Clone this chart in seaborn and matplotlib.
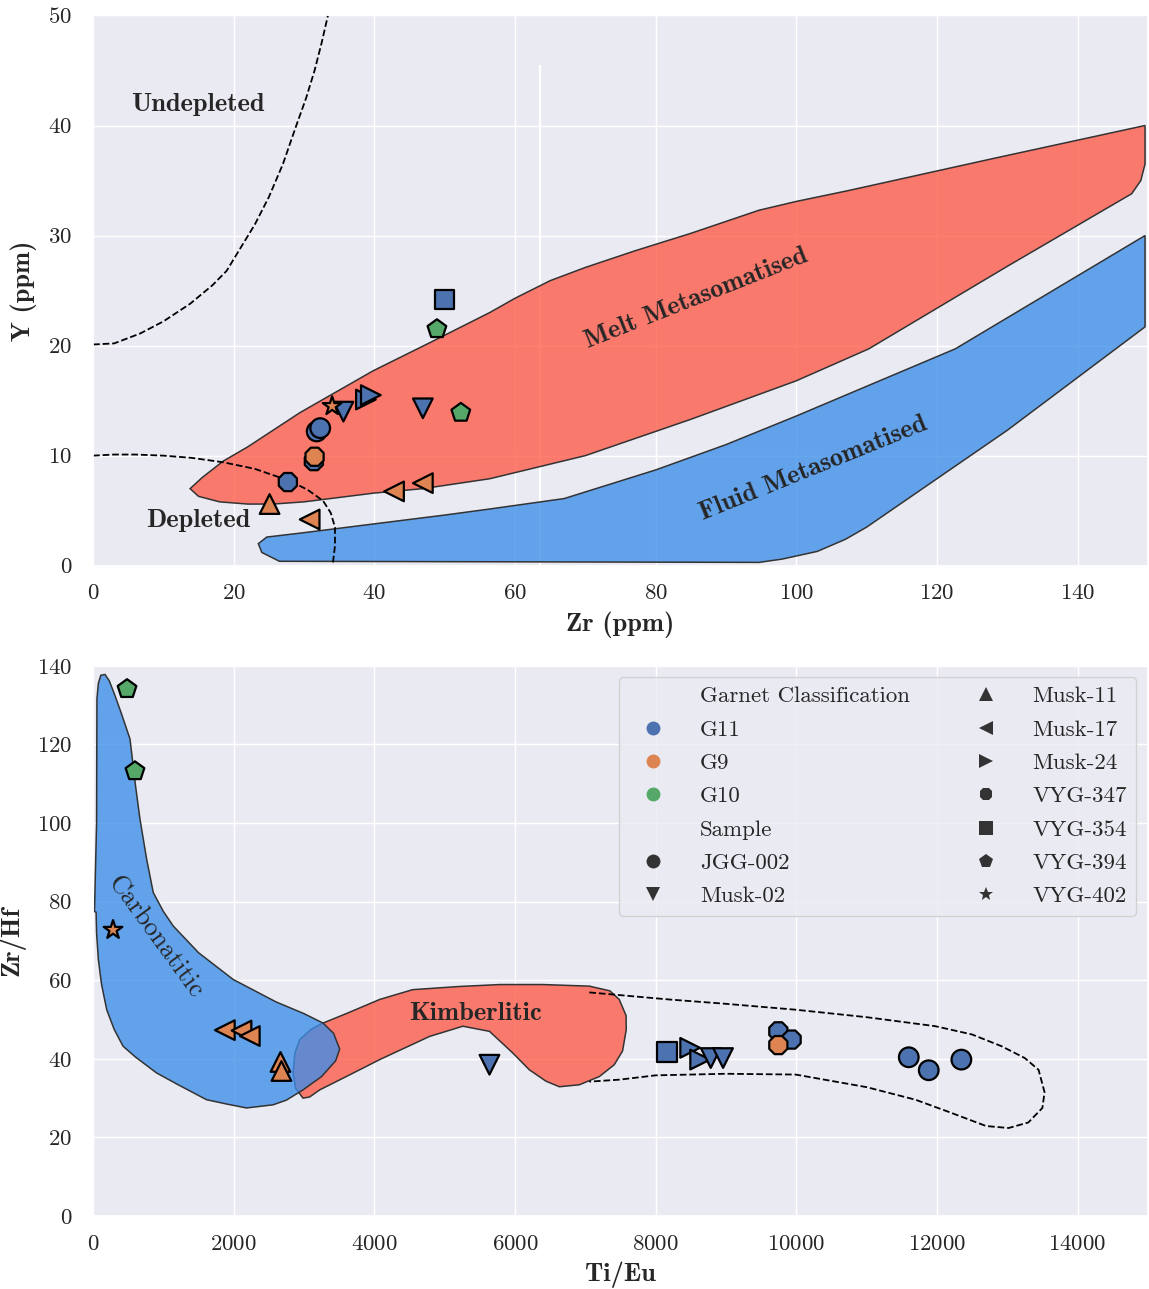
import numpy as np
import pandas as pd
import matplotlib
matplotlib.use("Agg")
import matplotlib.pyplot as plt
import seaborn as sns

# ---------------- data ----------------
classes = ["G11", "G9", "G10"]
samples = ["JGG-002", "Musk-02", "Musk-11", "Musk-17", "Musk-24",
           "VYG-347", "VYG-354", "VYG-394", "VYG-402"]
sample_markers = ["o", "v", "^", "<", ">", "8", "s", "p", "*"]
palette = ["#4c72b0", "#dd8452", "#55a868"]

# top panel: Zr (ppm) vs Y (ppm)
top_zr = [50.0, 48.9, 52.3, 38.8, 39.5, 35.6, 46.9, 34.0, 31.8, 32.3,
          31.4, 31.5, 27.7, 25.1, 30.8, 42.8, 46.9]
top_y = [24.2, 21.5, 13.9, 15.1, 15.5, 14.0, 14.3, 14.5, 12.2, 12.5,
         9.5, 9.9, 7.6, 5.6, 4.2, 6.75, 7.5]
top_class = ["G11", "G10", "G10", "G11", "G11", "G11", "G11", "G9", "G11", "G11",
             "G11", "G9", "G11", "G9", "G9", "G9", "G9"]
top_sample = ["VYG-354", "VYG-394", "VYG-394", "Musk-24", "Musk-24", "Musk-02",
              "Musk-02", "VYG-402", "JGG-002", "JGG-002", "VYG-347", "VYG-347",
              "VYG-347", "Musk-11", "Musk-17", "Musk-17", "Musk-17"]

# bottom panel: Ti/Eu vs Zr/Hf
bot_tieu = [483, 596, 284, 1874, 2111, 2229, 2665, 2679, 5637, 8160,
            8491, 8633, 8784, 8959, 9745, 9934, 9745, 11600, 11884, 12348]
bot_zrhf = [134.1, 113.2, 72.8, 47.3, 47.2, 45.8, 39.2, 36.9, 38.5, 41.7,
            42.8, 39.8, 40.2, 40.2, 47.0, 44.9, 43.5, 40.4, 37.1, 39.8]
bot_class = ["G10", "G10", "G9", "G9", "G9", "G9", "G9", "G9", "G11", "G11",
             "G11", "G11", "G11", "G11", "G11", "G11", "G9", "G11", "G11", "G11"]
bot_sample = ["VYG-394", "VYG-394", "VYG-402", "Musk-17", "Musk-17", "Musk-17",
              "Musk-11", "Musk-11", "Musk-02", "VYG-354", "Musk-24", "Musk-24",
              "Musk-02", "Musk-02", "VYG-347", "VYG-347", "VYG-347",
              "JGG-002", "JGG-002", "JGG-002"]

# field outlines (top panel, Zr vs Y)
melt_x = [13.8, 15, 18, 22, 25.6, 30, 40, 46.9, 56.4, 70, 85, 100, 110.3, 130, 147.7,
          149.0, 149.6, 149.6, 128, 107.5, 100, 94.7, 85, 77, 70, 65, 60, 56.4, 48,
          39.8, 29.4, 22, 18.5, 15.5]
melt_y = [7.0, 6.3, 5.8, 5.6, 5.6, 5.8, 6.6, 7.0, 7.9, 10.0, 13.3, 16.8, 19.7, 27.2, 33.8,
          35.0, 36.5, 40.0, 37.0, 34.1, 33.1, 32.3, 30.2, 28.6, 27.1, 25.9, 24.3, 23.0,
          20.3, 17.7, 13.9, 10.8, 9.5, 8.0]
fluid_x = [23.5, 24.7, 30, 40, 50, 56.4, 67, 80, 90, 100, 110, 122.6, 149.6, 149.6,
           130, 110, 107, 103, 98, 94.7, 26.5, 24.0]
fluid_y = [2.0, 2.6, 3.0, 3.8, 4.6, 5.15, 6.1, 8.7, 11.0, 13.6, 16.3, 19.7, 30.0, 21.7,
           12.3, 3.5, 2.4, 1.3, 0.6, 0.3, 0.4, 1.2]
undep_x = [0, 3, 6.7, 10, 13.8, 17, 19, 20.9, 23, 25, 27, 28.9, 30.3, 31.5, 32.5, 33.4]
undep_y = [20.1, 20.2, 21.1, 22.2, 23.8, 25.5, 26.8, 28.8, 31.0, 33.5, 36.5, 40.0,
           42.5, 45.0, 47.5, 50.0]
dep_x = [0, 3, 6, 10, 14, 18.5, 23, 28, 30.5, 32.7, 33.8, 34.4, 34.4, 34.1]
dep_y = [10.0, 10.1, 10.1, 10.0, 9.8, 9.4, 8.8, 7.7, 6.9, 5.9, 4.8, 3.5, 1.8, 0.2]

# field outlines (bottom panel, Ti/Eu vs Zr/Hf)
carb_x = [20, 50, 55, 75, 110, 170, 230, 300, 400, 525, 600, 667, 762, 856, 1000, 1140,
          1500, 1992, 2600, 3000, 3270, 3420, 3507, 3450, 3250, 2986, 2750, 2560, 2182,
          1900, 1614, 1200, 904, 600, 427, 300, 194, 120, 75, 50, 43]
carb_y = [77.5, 100, 131.6, 135.5, 137.6, 137.8, 136.2, 133.0, 128.0, 121.4, 110, 101,
          90.8, 82.3, 77.5, 73.8, 67, 60.2, 54.5, 51.5, 49.1, 46.5, 42.5, 39.5, 35.5,
          32.1, 29.5, 28.3, 27.5, 28.5, 29.6, 33.5, 36.4, 40.5, 43.2, 47.5, 52.5, 59,
          65.3, 72, 77.3]
kimb_x = [2986, 2880, 2844, 2870, 2939, 3100, 3270, 3600, 4075, 4544, 5200, 5779, 6400,
          7057, 7350, 7483, 7580, 7582, 7530, 7412, 7200, 6915, 6631, 6442, 6205, 5968,
          5637, 5258, 4785, 4075, 3602, 3223, 3080]
kimb_y = [30.0, 32.5, 36.4, 41.5, 44.9, 47.5, 49.1, 51.5, 55.1, 57.6, 58.4, 58.9, 58.9,
          58.5, 57.3, 55.1, 51.0, 47.4, 42.0, 38.5, 35.5, 33.4, 32.9, 34.3, 37.2, 41.5,
          47.0, 48.3, 45.7, 39.8, 35.5, 32.1, 30.3]
kdash_x = [7057, 8193, 9000, 9991, 11000, 11979, 12500, 12921, 13250, 13446, 13531,
           13500, 13300, 13020, 12700, 12168, 11695, 11000, 9991, 9000, 8000, 7483, 7057]
kdash_y = [56.9, 55.1, 54.0, 52.5, 50.6, 48.3, 46.2, 43.2, 40.2, 37.2, 31.5, 27.5,
           23.8, 22.4, 22.9, 26.5, 29.6, 32.8, 36.0, 36.2, 35.8, 34.7, 34.2]

# ---------------- style ----------------
sns.set_theme(style="darkgrid")
plt.rcParams["font.family"] = ["cmr10", "DejaVu Serif"]
plt.rcParams["mathtext.fontset"] = "cm"
plt.rcParams["axes.formatter.use_mathtext"] = True
plt.rcParams["axes.unicode_minus"] = False

RED = "#ff5a48"
BLUE = "#3c8eea"
FALPHA = 0.78
EDGE = "#333333"
BOLD = ["cmb10", "DejaVu Serif"]
TXT = "#262626"
TICK_FS = 16.5
LABEL_FS = 19
REGION_FS = 19

df_top = pd.DataFrame({"Zr": top_zr, "Y": top_y,
                       "Garnet Classification": top_class, "Sample": top_sample})
df_bot = pd.DataFrame({"TiEu": bot_tieu, "ZrHf": bot_zrhf,
                       "Garnet Classification": bot_class, "Sample": bot_sample})
marker_map = dict(zip(samples, sample_markers))

fig, (ax1, ax2) = plt.subplots(2, 1, figsize=(11.49, 12.89), dpi=100)
fig.subplots_adjust(left=0.081, right=0.999, top=0.988, bottom=0.0566, hspace=0.182)

# ---- top panel ----
ax1.vlines(63.5, 0, 45.5, color="white", lw=1.6, zorder=0.6)
ax1.fill(melt_x, melt_y, facecolor=RED, alpha=FALPHA, edgecolor="none", zorder=1)
ax1.fill(melt_x, melt_y, facecolor="none", edgecolor=EDGE, lw=1.1, zorder=1.1)
ax1.fill(fluid_x, fluid_y, facecolor=BLUE, alpha=FALPHA, edgecolor="none", zorder=1)
ax1.fill(fluid_x, fluid_y, facecolor="none", edgecolor=EDGE, lw=1.1, zorder=1.1)
ax1.plot(undep_x, undep_y, ls="--", color="black", lw=1.3, zorder=1.5)
ax1.plot(dep_x, dep_y, ls="--", color="black", lw=1.3, zorder=1.5)
sns.scatterplot(data=df_top, x="Zr", y="Y", hue="Garnet Classification",
                style="Sample", hue_order=classes, style_order=samples,
                palette=palette, markers=marker_map, s=200, edgecolor="black",
                linewidth=1.6, legend=False, ax=ax1, zorder=3)
ax1.set_xlim(0, 150)
ax1.set_ylim(0, 50)
ax1.set_xticks(range(0, 150, 20))
ax1.set_yticks(range(0, 51, 10))
ax1.set_xlabel("Zr (ppm)", fontsize=LABEL_FS, family=BOLD, labelpad=6)
ax1.set_ylabel("Y (ppm)", fontsize=LABEL_FS, family=BOLD, labelpad=8)
ax1.tick_params(axis="x", labelsize=TICK_FS, pad=7)
ax1.tick_params(axis="y", labelsize=TICK_FS, pad=9)
ax1.text(14.9, 41.9, "Undepleted", fontsize=REGION_FS, family=BOLD, ha="center", va="center", color=TXT)
ax1.text(14.9, 4.1, "Depleted", fontsize=REGION_FS, family=BOLD, ha="center", va="center", color=TXT)
ax1.text(85.8, 24.3, "Melt Metasomatised", fontsize=REGION_FS, family=BOLD, ha="center",
         va="center", rotation=21.5, rotation_mode="anchor", color=TXT)
ax1.text(102.4, 8.8, "Fluid Metasomatised", fontsize=REGION_FS, family=BOLD, ha="center",
         va="center", rotation=22, rotation_mode="anchor", color=TXT)

# ---- bottom panel ----
ax2.fill(kimb_x, kimb_y, facecolor=RED, alpha=FALPHA, edgecolor="none", zorder=1)
ax2.fill(kimb_x, kimb_y, facecolor="none", edgecolor=EDGE, lw=1.1, zorder=1.05)
ax2.fill(carb_x, carb_y, facecolor=BLUE, alpha=FALPHA, edgecolor="none", zorder=1.1)
ax2.fill(carb_x, carb_y, facecolor="none", edgecolor=EDGE, lw=1.1, zorder=1.15)
ax2.plot(kdash_x, kdash_y, ls="--", color="black", lw=1.3, zorder=1.5)
sns.scatterplot(data=df_bot, x="TiEu", y="ZrHf", hue="Garnet Classification",
                style="Sample", hue_order=classes, style_order=samples,
                palette=palette, markers=marker_map, s=200, edgecolor="black",
                linewidth=1.6, legend=True, ax=ax2, zorder=3)
ax2.set_xlim(0, 15000)
ax2.set_ylim(0, 140)
ax2.set_xticks(range(0, 15000, 2000))
ax2.set_yticks(range(0, 141, 20))
ax2.set_xlabel("Ti/Eu", fontsize=LABEL_FS, family=BOLD, labelpad=6)
ax2.set_ylabel("Zr/Hf", fontsize=LABEL_FS, family=BOLD, labelpad=8)
ax2.tick_params(axis="x", labelsize=TICK_FS, pad=7)
ax2.tick_params(axis="y", labelsize=TICK_FS, pad=9)
ax2.text(880, 71.0, "Carbonatitic", fontsize=REGION_FS, ha="center", va="center",
         rotation=-54, rotation_mode="anchor", color=TXT)
ax2.text(5438, 51.6, "Kimberlitic", fontsize=REGION_FS, family=BOLD, ha="center",
         va="center", color=TXT)

sns.move_legend(ax2, "upper right", ncol=2, fontsize=16.5, frameon=True,
                title=None, columnspacing=2.2, handletextpad=0.95,
                handlelength=2.2, labelspacing=0.58, borderaxespad=0.5)
leg = ax2.get_legend()
for h in leg.legend_handles:
    try:
        h.set_markersize(10)
        h.set_markeredgewidth(0)
    except AttributeError:
        pass
for t in leg.get_texts():
    t.set_color(TXT)

fig.savefig("out.png", dpi=100)
